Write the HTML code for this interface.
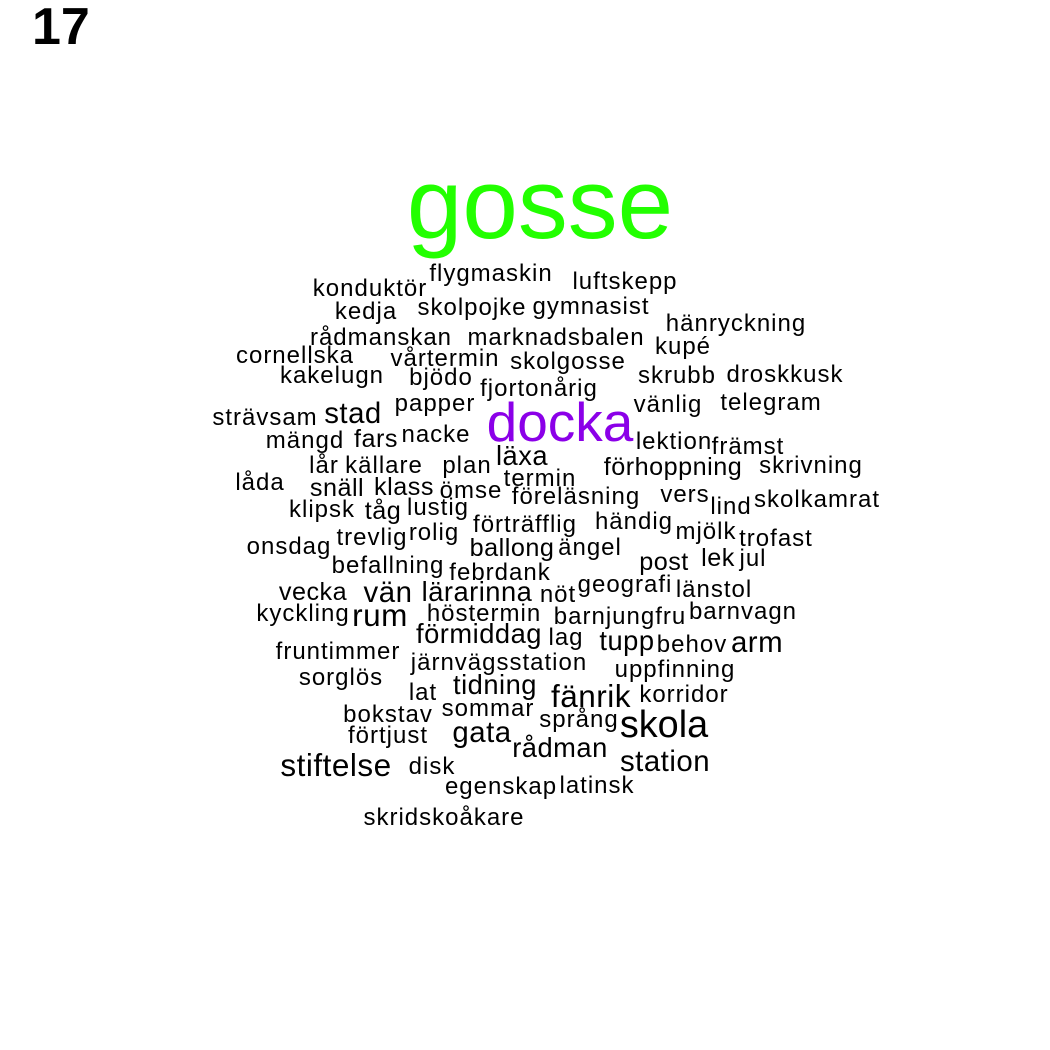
<!DOCTYPE html>
<html><head><meta charset="utf-8">
<style>
html,body{margin:0;padding:0;background:#fff;}
svg{display:block;}
text{font-family:"Liberation Sans",Arial,sans-serif;}
</style></head>
<body>
<svg id="cloud" width="1050" height="1050" viewBox="0 0 1050 1050" xmlns="http://www.w3.org/2000/svg">
<rect width="1050" height="1050" fill="#fff"/>
<text x="32" y="44" font-size="52" font-weight="bold" fill="#000">17</text>
</svg>
<script>
const words = ["gosse","docka","konduktör","flygmaskin","luftskepp","kedja","skolpojke","gymnasist","hänryckning","rådmanskan","marknadsbalen","kupé","cornellska","vårtermin","skolgosse","kakelugn","bjödo","fjortonårig","skrubb","droskkusk","papper","vänlig","telegram","strävsam","stad","mängd","fars","nacke","lektion","främst","lår","källare","plan","läxa","termin","förhoppning","skrivning","låda","snäll","klass","ömse","föreläsning","vers","lind","skolkamrat","klipsk","tåg","lustig","förträfflig","händig","mjölk","trofast","onsdag","trevlig","rolig","ballong","ängel","post","lek","jul","befallning","febrdank","vecka","vän","lärarinna","nöt","geografi","länstol","kyckling","rum","höstermin","barnjungfru","barnvagn","förmiddag","lag","tupp","behov","arm","fruntimmer","järnvägsstation","uppfinning","sorglös","lat","tidning","fänrik","korridor","bokstav","sommar","språng","skola","förtjust","gata","rådman","stiftelse","disk","station","egenskap","latinsk","skridskoåkare"];
const sizes = [95,50,22,22,22,22,22,22,22,22,22,22,22,22,22,22,22,22,22,22,22,22,22,22,28,22,24,22,22,22,22,22,22,26,22,24,22,22,24,24,22,22,22,22,22,22,24,22,22,22,22,22,22,22,22,24,22,24,24,22,22,22,24,28,26,22,22,22,22,30,22,22,22,26,22,26,22,28,22,22,22,22,22,26,30,22,22,22,22,36,22,28,26,30,22,28,22,22,22];
const xs = [540,560,370,491,625,366,472,591,736,381,556,683,295,445,568,332,441,539,677,785,435,668,771,265,353,305,376,436,674,748,324,384,467,522,540,673,811,260,337,404,471,576,685,731,817,322,383,438,525,634,706,776,289,372,434,512,590,664,718,753,388,500,313,388,477,558,625,714,303,380,484,620,743,479,566,627,692,757,338,499,675,341,423,495,591,684,388,488,579,664,388,482,560,336,432,665,501,597,444];
const ys = [238,441,296,281,289,319,315,314,331,345,345,354,363,366,369,383,385,396,383,382,411,412,410,425,423,448,447,442,449,454,473,473,473,465,486,475,473,490,496,495,498,504,502,514,507,517,519,515,532,529,539,546,554,545,540,556,555,570,566,566,573,580,600,602,601,602,592,597,621,626,621,624,619,643,645,650,652,652,659,670,677,685,700,694,707,702,722,716,727,737,743,742,757,776,774,771,794,793,825];
const colors = {gosse:"#22ff00",docka:"#8b00e8"};
const svg = document.getElementById('cloud');
function styleFor(s){
  if (s >= 90) return {fs: s*1.05, ls: 0};
  if (s >= 45) return {fs: s*1.1, ls: 0};
  if (s >= 34) return {fs: s*1.05, ls: 0};
  if (s >= 24) return {fs: s*1.05, ls: 0.5};
  return {fs: 24, ls: 1};
}
words.forEach((w,i)=>{
  const st = styleFor(sizes[i]);
  const t = document.createElementNS("http://www.w3.org/2000/svg","text");
  t.setAttribute('x', xs[i]);
  t.setAttribute('y', ys[i]);
  t.setAttribute('font-size', st.fs);
  t.setAttribute('letter-spacing', st.ls);
  t.setAttribute('text-anchor','middle');
  t.setAttribute('fill', colors[w] || '#000');
  t.textContent = w;
  
  
  svg.appendChild(t);
});
</script>
</body></html>
